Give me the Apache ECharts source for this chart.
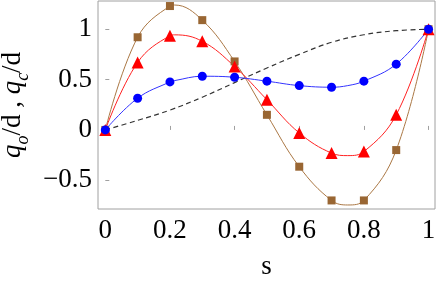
<!DOCTYPE html>
<html><head><meta charset="utf-8">
<script src="https://cdn.jsdelivr.net/npm/echarts@6/dist/echarts.min.js"></script>
<style>html,body{margin:0;padding:0;background:#fff}#c{width:436px;height:281px}</style>
</head><body><div id="c"></div>
<script>
// marker data (s = 0 ... 1 step 0.1)
var sValues = [0, 0.1, 0.2, 0.3, 0.4, 0.5, 0.6, 0.7, 0.8, 0.9, 1.0];
var brownSquares = [0, 0.92, 1.23, 1.09, 0.68, 0.15, -0.365, -0.70, -0.70, -0.20, 1.0];
var redTriangles = [0, 0.67, 0.935, 0.88, 0.63, 0.30, -0.03, -0.23, -0.215, 0.15, 1.0];
var blueCircles = [0, 0.315, 0.477, 0.533, 0.523, 0.484, 0.44, 0.424, 0.484, 0.653, 1.0];
// interpolating curves (extra samples at the extrema)
var curveS = [0, 0.1, 0.2, 0.215, 0.3, 0.4, 0.5, 0.6, 0.7, 0.75, 0.8, 0.9, 1.0];
var brownCurve = [0, 0.92, 1.23, 1.24, 1.09, 0.68, 0.15, -0.365, -0.70, -0.745, -0.70, -0.20, 1.0];
var redCurve = [0, 0.67, 0.935, 0.944, 0.88, 0.63, 0.30, -0.03, -0.23, -0.255, -0.215, 0.15, 1.0];
var blueCurve = [0, 0.315, 0.477, 0.49, 0.533, 0.523, 0.484, 0.44, 0.424, 0.44, 0.484, 0.653, 1.0];
var dashedCurve = [0, 0.095, 0.197, 0.325, 0.47, 0.615, 0.75, 0.87, 0.945, 0.985, 1.0];
var xTicks = [0, 0.2, 0.4, 0.6, 0.8, 1];
var xTickLabels = ['0', '0.2', '0.4', '0.6', '0.8', '1'];
var yTicks = [-0.5, 0, 0.5, 1];
var yTickLabels = ['\u22120.5', '0', '0.5', '1'];

function pairs(xs, ys) { return xs.map(function (s, i) { return [s, ys[i]]; }); }
function lbl(vals, labs) { return function (v) { for (var i = 0; i < vals.length; i++) { if (Math.abs(vals[i] - v) < 1e-6) return labs[i]; } return ''; }; }

var serif = '"Liberation Serif","DejaVu Serif",serif';
var chart = echarts.init(document.getElementById('c'));
chart.setOption({
  animation: false,
  grid: { left: 98, top: 1, right: 1, bottom: 72, show: true, borderColor: '#a0a0a0', borderWidth: 1,
          containLabel: false, outerBoundsMode: 'none' },
  xAxis: {
    type: 'value', min: -0.0226, max: 1.02,
    axisLine: { show: false }, splitLine: { show: false },
    axisTick: { show: true, inside: true, length: 4, lineStyle: { color: '#a0a0a0' }, customValues: xTicks },
    axisLabel: { customValues: xTicks, formatter: lbl(xTicks, xTickLabels), fontFamily: serif, fontSize: 27, color: '#000', margin: 8 },
    name: 's', nameLocation: 'middle', nameGap: 44,
    nameTextStyle: { fontFamily: serif, fontSize: 27, color: '#000' }
  },
  yAxis: {
    type: 'value', min: -0.785, max: 1.28,
    axisLine: { show: false }, splitLine: { show: false },
    axisTick: { show: true, inside: true, length: 4, lineStyle: { color: '#a0a0a0' }, customValues: yTicks },
    axisLabel: { customValues: yTicks, formatter: lbl(yTicks, yTickLabels), fontFamily: serif, fontSize: 27, color: '#000', margin: 6 },
    name: '{q|q}{sub|o}{n|/d , }{q|q}{sub|c}{n|/d}', nameLocation: 'middle', nameGap: 58, nameRotate: 90,
    nameTextStyle: {
      fontFamily: serif, fontSize: 27, color: '#000',
      rich: {
        q: { fontFamily: serif, fontSize: 27, fontStyle: 'italic', color: '#000', verticalAlign: 'bottom', lineHeight: 30, padding: [0, 0, 6, 0] },
        sub: { fontFamily: serif, fontSize: 18, fontStyle: 'italic', color: '#000', verticalAlign: 'bottom', lineHeight: 22 },
        n: { fontFamily: serif, fontSize: 27, color: '#000', verticalAlign: 'bottom', lineHeight: 30, padding: [0, 0, 6, 0] }
      }
    }
  },
  series: [
    { type: 'line', data: pairs(sValues, dashedCurve), smooth: 0.4, showSymbol: false, symbol: 'none',
      lineStyle: { color: '#333', width: 1.2, type: [5, 3.5] }, z: 1 },
    { type: 'line', data: pairs(curveS, brownCurve), smooth: 0.4, symbol: 'none',
      lineStyle: { color: '#aa7744', width: 1 }, z: 2 },
    { type: 'line', data: pairs(curveS, redCurve), smooth: 0.4, symbol: 'none',
      lineStyle: { color: '#ff2222', width: 1 }, z: 2 },
    { type: 'line', data: pairs(curveS, blueCurve), smooth: 0.4, symbol: 'none',
      lineStyle: { color: '#3333ff', width: 1 }, z: 2 },
    { type: 'scatter', data: pairs(sValues, brownSquares), symbol: 'rect', symbolSize: 8,
      itemStyle: { color: '#996633', opacity: 1 }, z: 3 },
    { type: 'scatter', data: pairs(sValues, redTriangles), symbol: 'triangle', symbolSize: 12,
      itemStyle: { color: '#ff0000', opacity: 1 }, z: 4 },
    { type: 'scatter', data: pairs(sValues, blueCircles), symbol: 'circle', symbolSize: 9,
      itemStyle: { color: '#0000ff', opacity: 1 }, z: 5 }
  ]
});
</script></body></html>
